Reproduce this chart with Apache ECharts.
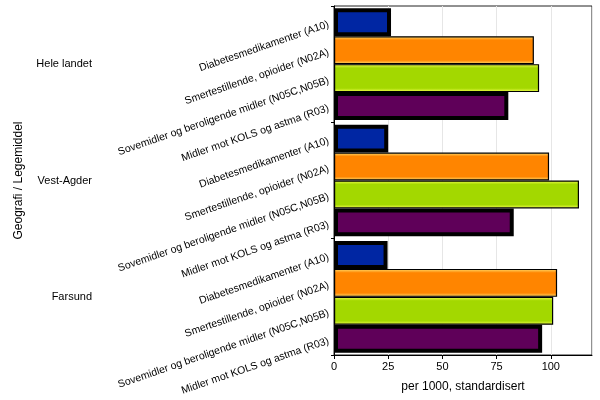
<!DOCTYPE html>
<html><head><meta charset="utf-8">
<script src="https://cdn.jsdelivr.net/npm/echarts@6/dist/echarts.min.js"></script>
<style>html,body{margin:0;padding:0;background:#fff}#c{width:600px;height:400px}</style>
</head><body><div id="c"></div>
<script>
const geografi = ['Hele landet', 'Vest-Agder', 'Farsund'];
const legemidler = ['Diabetesmedikamenter (A10)', 'Smertestillende, opioider (N02A)', 'Sovemidler og beroligende midler (N05C,N05B)', 'Midler mot KOLS og astma (R03)'];
const diabetes = [26.3, 25, 24.7];
const smertestillende = [92.2, 99.2, 102.9];
const sovemidler = [94.6, 113, 101.1];
const kols = [80.4, 82.9, 96];
const xTicks = [0, 25, 50, 75, 100];

const seriesValues = [diabetes, smertestillende, sovemidler, kols];
const baseColors = ['#0026a3', '#ff8500', '#a3d800', '#5f0059'];
const edgeColors = ['#000000', '#ffe070', '#f4ff50', '#000000'];
const borderW = [4, 1.2, 1.2, 4];

function grad(c, e) {
  return new echarts.graphic.LinearGradient(0, 0, 0, 1, [
    {offset: 0, color: e}, {offset: 0.14, color: c}, {offset: 0.86, color: c}, {offset: 1, color: e}
  ]);
}

const chart = echarts.init(document.getElementById('c'), null, {renderer: 'canvas'});
const FONT = 'Liberation Sans';
chart.setOption({
  animation: false,
  textStyle: {fontFamily: FONT},
  grid: {left: 334, right: 8, top: 6, bottom: 45, show: true, borderColor: '#222', borderWidth: 1, containLabel: false},
  xAxis: {
    type: 'value', min: 0, max: 119, interval: 25,
    name: 'per 1000, standardisert', nameLocation: 'middle', nameGap: 26,
    nameTextStyle: {fontFamily: FONT, fontSize: 12, color: '#000'},
    axisLine: {show: true, lineStyle: {color: '#000'}},
    axisTick: {show: true, length: 4, lineStyle: {color: '#000'}},
    axisLabel: {fontFamily: FONT, fontSize: 11, color: '#000', margin: 6, showMaxLabel: false,
      formatter: v => xTicks.includes(v) ? String(v) : ''},
    splitLine: {show: true, lineStyle: {color: '#e6e6e6'}}
  },
  yAxis: {
    type: 'category', data: geografi, inverse: true,
    name: 'Geografi / Legemiddel', nameLocation: 'middle', nameGap: 309, nameRotate: 90,
    nameTextStyle: {fontFamily: FONT, fontSize: 12, color: '#000'},
    axisLine: {show: true, lineStyle: {color: '#000'}},
    axisTick: {show: true, length: 3, lineStyle: {color: '#000'}},
    axisLabel: {fontFamily: FONT, fontSize: 11, color: '#000', margin: 242, align: 'right'}
  },
  series: legemidler.map((name, i) => ({
    name: name, type: 'bar', data: seriesValues[i],
    barGap: '0%', barCategoryGap: '4%',
    itemStyle: {color: grad(baseColors[i], edgeColors[i]), borderColor: '#000', borderWidth: borderW[i]},
    label: {show: true, position: 'left', distance: 6, rotate: 19, align: 'right', verticalAlign: 'middle',
      offset: [0, 2], formatter: name, fontFamily: FONT, fontSize: 10.5, color: '#000'}
  }))
});
</script></body></html>
